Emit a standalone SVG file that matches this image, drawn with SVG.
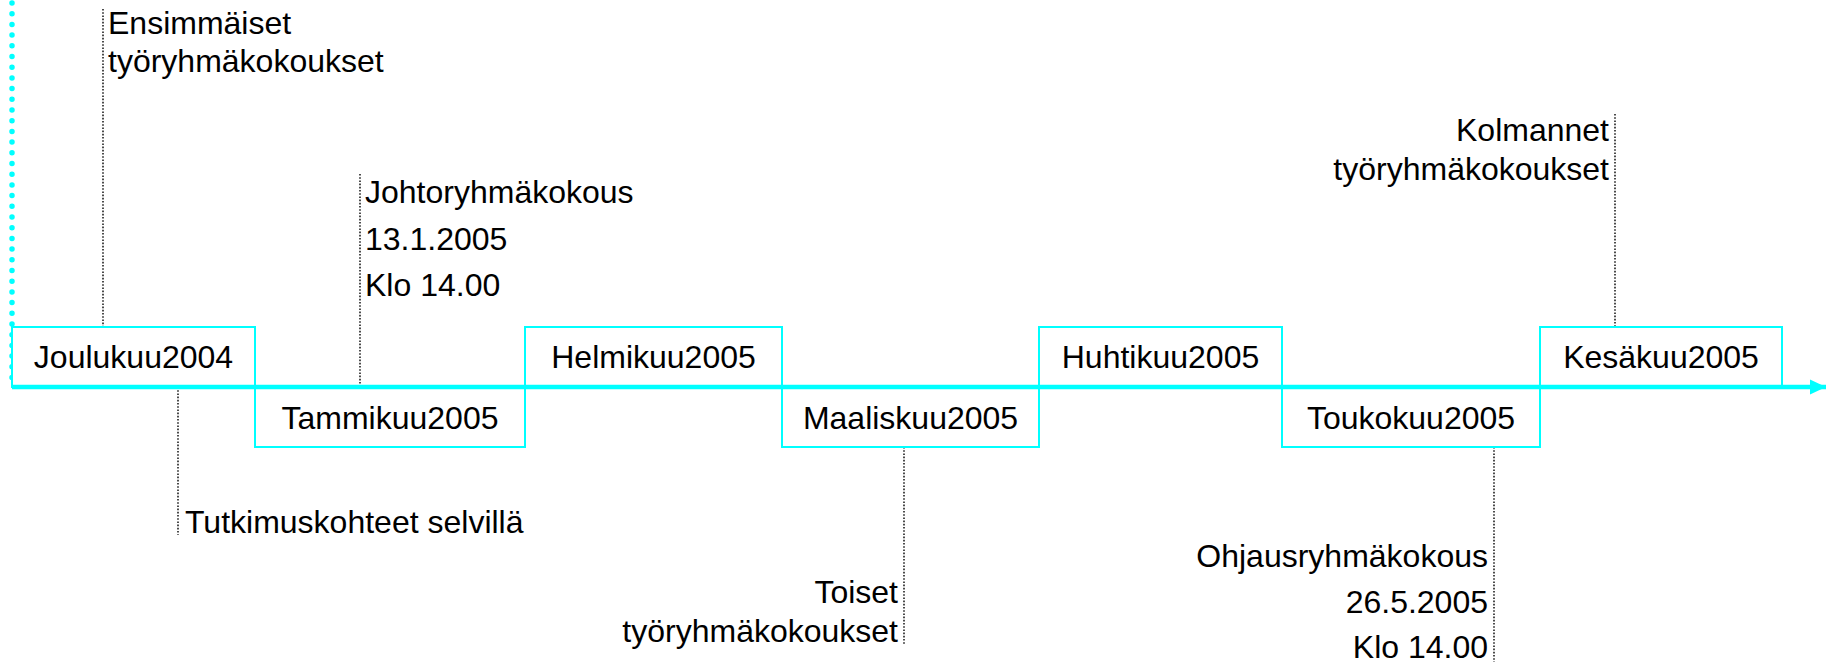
<svg xmlns="http://www.w3.org/2000/svg" width="1833" height="662" viewBox="0 0 1833 662">
<style>
  .box { fill: #ffffff; stroke: #00FFFF; stroke-width: 2; }
  .t { font-family: "Liberation Sans", Arial, sans-serif; font-size: 32px; fill: #000000; }
  .c { text-anchor: middle; }
  .e { text-anchor: end; }
  .lead { stroke: #000000; stroke-width: 1.4; stroke-dasharray: 1.6 1.6; fill: none; }
  .axis { stroke: #00FFFF; stroke-width: 4.5; fill: none; }
  .vdots { stroke: #00FFFF; stroke-width: 5.5; stroke-linecap: round; stroke-dasharray: 0 10.7; fill: none; }
</style>
<defs>
  <marker id="arrow" markerUnits="userSpaceOnUse" markerWidth="18" markerHeight="18" refX="16" refY="8" orient="auto">
    <polygon points="0,0.5 16,8 0,15.5" fill="#00FFFF"/>
  </marker>
</defs>
<rect width="1833" height="662" fill="#ffffff"/>

<g id="connectors">
  <line class="vdots" x1="12" y1="3" x2="12" y2="387"/>
  <line class="lead" x1="103" y1="9" x2="103" y2="327"/>
  <line class="lead" x1="360" y1="174" x2="360" y2="387"/>
  <line class="lead" x1="178" y1="387" x2="178" y2="535"/>
  <line class="lead" x1="904" y1="447" x2="904" y2="644"/>
  <line class="lead" x1="1494" y1="447" x2="1494" y2="662"/>
  <line class="lead" x1="1615" y1="114" x2="1615" y2="327"/>
</g>

<g id="joulukuu2004"><rect class="box" x="12" y="327" width="243" height="60"/><text class="t c" x="133.5" y="368">Joulukuu2004</text></g>
<g id="tammikuu2005"><rect class="box" x="255" y="387" width="270" height="60"/><text class="t c" x="390" y="429">Tammikuu2005</text></g>
<g id="helmikuu2005"><rect class="box" x="525" y="327" width="257" height="60"/><text class="t c" x="653.5" y="368">Helmikuu2005</text></g>
<g id="maaliskuu2005"><rect class="box" x="782" y="387" width="257" height="60"/><text class="t c" x="910.5" y="429">Maaliskuu2005</text></g>
<g id="huhtikuu2005"><rect class="box" x="1039" y="327" width="243" height="60"/><text class="t c" x="1160.5" y="368">Huhtikuu2005</text></g>
<g id="toukokuu2005"><rect class="box" x="1282" y="387" width="258" height="60"/><text class="t c" x="1411" y="429">Toukokuu2005</text></g>
<g id="kesakuu2005"><rect class="box" x="1540" y="327" width="242" height="60"/><text class="t c" x="1661" y="368">Kesäkuu2005</text></g>

<g id="axis">
  <line class="axis" x1="12" y1="387" x2="1826" y2="387" marker-end="url(#arrow)"/>
</g>

<g id="ensimmaiset">
  <text class="t" x="108" y="34">Ensimmäiset</text>
  <text class="t" x="108" y="72">työryhmäkokoukset</text>
</g>
<g id="johtoryhmakokous">
  <text class="t" x="365" y="203">Johtoryhmäkokous</text>
  <text class="t" x="365" y="250">13.1.2005</text>
  <text class="t" x="365" y="296">Klo 14.00</text>
</g>
<g id="tutkimuskohteet">
  <text class="t" x="185" y="533">Tutkimuskohteet selvillä</text>
</g>
<g id="toiset">
  <text class="t e" x="898" y="603">Toiset</text>
  <text class="t e" x="898" y="642">työryhmäkokoukset</text>
</g>
<g id="ohjausryhmakokous">
  <text class="t e" x="1488" y="567">Ohjausryhmäkokous</text>
  <text class="t e" x="1488" y="613">26.5.2005</text>
  <text class="t e" x="1488" y="658">Klo 14.00</text>
</g>
<g id="kolmannet">
  <text class="t e" x="1609" y="141">Kolmannet</text>
  <text class="t e" x="1609" y="180">työryhmäkokoukset</text>
</g>
</svg>
